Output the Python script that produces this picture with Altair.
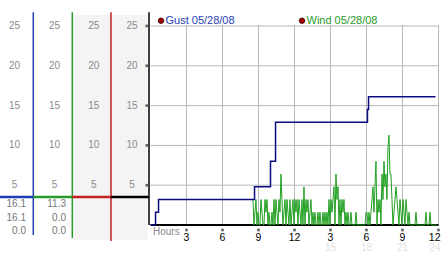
import altair as alt
import pandas as pd

# ---------------- data ----------------
gust_hours = [0.0, 0.42, 0.67, 8.67, 10.0, 10.42, 18.08, 18.17, 23.75]
gust_values = [0.0, 1.6, 3.2, 4.8, 8.0, 12.9, 14.5, 16.1, 16.1]

wind_start_hour = 8.54          # first wind sample
wind_step_hours = 5 / 60        # 5-minute samples
wind_values = [
    3.2, 0, 1.6, 3.2, 0, 1.6, 0, 0, 3.2, 1.6,
    0, 0, 3.2, 1.6, 3.2, 0, 1.6, 0, 0, 1.6,
    0, 3.2, 0, 3.2, 1.6, 0, 3.2, 1.6, 6.4, 3.2,
    0, 1.6, 3.2, 0, 3.2, 1.6, 0, 3.2, 0, 1.6,
    3.2, 0, 3.2, 1.6, 3.2, 0, 3.2, 1.6, 0, 3.2,
    0, 4.8, 0, 3.2, 1.6, 3.2, 0, 1.6, 3.2, 0,
    1.6, 0, 1.6, 0, 0, 1.6, 0, 1.6, 0, 0,
    1.6, 0, 1.6, 0, 1.6, 0, 3.2, 0, 3.2, 1.6,
    3.2, 4.8, 0, 6.4, 3.2, 4.8, 0, 3.2, 0, 3.2,
    1.6, 3.2, 0, 1.6, 0, 1.6, 0, 0, 1.6, 0,
    0, 0, 0, 1.6, 0, 0, 0, 0, 0, 0,
    0, 0, 0, 1.6, 1.6, 0, 1.6, 0, 1.6, 3.2,
    4.8, 1.6, 4.8, 8.0, 0, 3.2, 1.6, 3.2, 0, 6.4,
    3.2, 8.0, 4.8, 6.4, 3.2, 9.7, 11.3, 6.4, 6.4, 3.2,
    0, 1.6, 3.2, 4.8, 3.2, 1.6, 0, 3.2, 1.6, 0,
    3.2, 1.6, 0, 3.2, 1.6, 0, 1.6, 0, 0, 0,
    0, 0, 0, 1.6, 0, 0, 0, 0, 0, 0,
    0, 0, 0, 1.6, 0, 0, 0, 1.6, 0, 0,
    0, 0, 0, 0, 0,
]

y_ticks = [5, 10, 15, 20, 25]
x_ticks = [3, 6, 9, 12, 15, 18, 21, 24]
x_tick_labels = ["3", "6", "9", "12", "3", "6", "9", "12"]
x_ticks2 = [15, 18, 21, 24]
x_tick_labels2 = ["15", "18", "21", "24"]

gust_stats = ["16.1", "16.1", "0.0"]
wind_stats = ["11.3", "0.0", "0.0"]
legend_labels = ["Gust 05/28/08", "Wind 05/28/08"]

# ---------------- layout (in the chart's own units: hours / km/h) ----------------
PX_PER_H = 12.0
X0 = 150.5
PX_PER_V = 7.96
Y0 = 225.0
W, H = 442, 253

def hx(px):
    return (px - X0) / PX_PER_H

def vy(py):
    return (Y0 - py) / PX_PER_V

XS = alt.Scale(domain=[hx(0), hx(W)], nice=False, zero=False)
YS = alt.Scale(domain=[vy(H), vy(0)], nice=False, zero=False)

def X(f): return alt.X(f, type="quantitative", scale=XS, axis=None)
def X2(f): return alt.X2(f)
def Y(f): return alt.Y(f, type="quantitative", scale=YS, axis=None)
def Y2(f): return alt.Y2(f)

FONT = "Liberation Sans"
BLUE, GREEN, RED, BLACK = "#1f3db5", "#2a9a2a", "#c42020", "#000000"

col_edges = [hx(0), hx(33.3), hx(72.3), hx(111), hx(149)]
col_centers = [hx(14.5), hx(54.5), hx(93.8), hx(132)]
col_colors = [BLUE, GREEN, RED, BLACK]

layers = []

# shaded background of the two right columns of the side panel
shade = pd.DataFrame({"x": [hx(72.7)], "x2": [hx(147.5)], "y": [vy(15)], "y2": [vy(240)]})
layers.append(alt.Chart(shade).mark_rect(color="#f4f4f4").encode(
    x=X("x"), x2=X2("x2"), y=Y("y"), y2=Y2("y2")))

# main grid
vgrid = pd.DataFrame({"x": x_ticks, "y": [vy(25)] * len(x_ticks), "y2": [0] * len(x_ticks)})
layers.append(alt.Chart(vgrid).mark_rule(color="#b8b8b8", strokeWidth=1).encode(
    x=X("x"), y=Y("y"), y2=Y2("y2")))
hgrid = pd.DataFrame({"y": y_ticks, "x": [0] * len(y_ticks), "x2": [24] * len(y_ticks)})
layers.append(alt.Chart(hgrid).mark_rule(color="#b8b8b8", strokeWidth=1).encode(
    x=X("x"), x2=X2("x2"), y=Y("y")))

# side panel vertical separators
vsep = pd.DataFrame({
    "x": col_edges[1:],
    "y": [vy(12.3)] * 4,
    "y2": [vy(235), vy(238), vy(241), 0],
    "c": col_colors,
})
layers.append(alt.Chart(vsep).mark_rule(strokeWidth=1.5).encode(
    x=X("x"), y=Y("y"), y2=Y2("y2"),
    color=alt.Color("c:N", scale=None)))

# side panel horizontal separator
hsep = pd.DataFrame({
    "x": col_edges[:-1], "x2": col_edges[1:],
    "y": [vy(197)] * 4, "c": col_colors,
})
layers.append(alt.Chart(hsep).mark_rule(strokeWidth=2.6).encode(
    x=X("x"), x2=X2("x2"), y=Y("y"),
    color=alt.Color("c:N", scale=None)))

# side panel scale labels
lab_rows = []
for cx in col_centers:
    for t in y_ticks:
        lab_rows.append({"x": cx, "y": t, "t": str(t)})
layers.append(alt.Chart(pd.DataFrame(lab_rows)).mark_text(
    font=FONT, fontSize=10, color="#8a8a8a", align="center", baseline="middle").encode(
    x=X("x"), y=Y("y"), text="t:N"))

# tick marks at right of side panel
ytm = pd.DataFrame({"x": [hx(146.8)] * len(y_ticks), "y": y_ticks})
layers.append(alt.Chart(ytm).mark_point(
    shape="square", filled=True, size=7, color="#555", opacity=0.9).encode(
    x=X("x"), y=Y("y")))

# current / max / min values
stat_rows = []
for i, (g, w) in enumerate(zip(gust_stats, wind_stats)):
    yy = [vy(204), vy(218.3), vy(230.7)][i]
    stat_rows.append({"x": hx(26), "y": yy, "t": g})
    stat_rows.append({"x": hx(66), "y": yy, "t": w})
layers.append(alt.Chart(pd.DataFrame(stat_rows)).mark_text(
    font=FONT, fontSize=10, color="#777777", align="right", baseline="middle").encode(
    x=X("x"), y=Y("y"), text="t:N"))

# baseline of main plot
base = pd.DataFrame({"x": [0], "x2": [24], "y": [0]})
layers.append(alt.Chart(base).mark_rule(color=BLACK, strokeWidth=2).encode(
    x=X("x"), x2=X2("x2"), y=Y("y")))

# wind series
wind_df = pd.DataFrame({
    "h": [wind_start_hour + i * wind_step_hours for i in range(len(wind_values))],
    "v": wind_values,
})
layers.append(alt.Chart(wind_df).mark_line(color="#22a022", strokeWidth=1).encode(
    x=X("h"), y=Y("v")))

# gust series
gust_df = pd.DataFrame({"h": gust_hours, "v": gust_values})
layers.append(alt.Chart(gust_df).mark_line(color="#0c0c80", strokeWidth=1.5,
                                           interpolate="step-after").encode(
    x=X("h"), y=Y("v")))

# x tick marks and labels
xtm = pd.DataFrame({"x": x_ticks, "y": [vy(230)] * len(x_ticks)})
layers.append(alt.Chart(xtm).mark_point(
    shape="square", filled=True, size=7, color="#555", opacity=0.9).encode(
    x=X("x"), y=Y("y")))
xtl = pd.DataFrame({"x": x_ticks[:-1], "y": [vy(238)] * 7, "t": x_tick_labels[:-1]})
layers.append(alt.Chart(xtl).mark_text(
    font=FONT, fontSize=10.5, color="#000", align="center", baseline="middle").encode(
    x=X("x"), y=Y("y"), text="t:N"))
xtl_last = pd.DataFrame({"x": x_ticks[-1:], "y": [vy(238)], "t": x_tick_labels[-1:]})
layers.append(alt.Chart(xtl_last).mark_text(
    font=FONT, fontSize=10.5, color="#000", align="right", baseline="middle", dx=2).encode(
    x=X("x"), y=Y("y"), text="t:N"))
xtl2 = pd.DataFrame({"x": x_ticks2[:-1], "y": [vy(248)] * 3, "t": x_tick_labels2[:-1]})
layers.append(alt.Chart(xtl2).mark_text(
    font=FONT, fontSize=10, color="#e2e2e2", align="center", baseline="middle").encode(
    x=X("x"), y=Y("y"), text="t:N"))
xtl2_last = pd.DataFrame({"x": x_ticks2[-1:], "y": [vy(248)], "t": x_tick_labels2[-1:]})
layers.append(alt.Chart(xtl2_last).mark_text(
    font=FONT, fontSize=10, color="#e2e2e2", align="right", baseline="middle", dx=2).encode(
    x=X("x"), y=Y("y"), text="t:N"))

hours = pd.DataFrame({"x": [hx(153)], "y": [vy(231.5)], "t": ["Hours"]})
layers.append(alt.Chart(hours).mark_text(
    font=FONT, fontSize=10, color="#8a8a8a", align="left", baseline="middle").encode(
    x=X("x"), y=Y("y"), text="t:N"))

# legend
leg = pd.DataFrame({
    "dx": [hx(161), hx(302)], "tx": [hx(165.5), hx(306.5)],
    "y": [vy(20.7)] * 2, "t": legend_labels, "c": [BLUE, GREEN],
})
layers.append(alt.Chart(leg).mark_point(shape="circle", filled=True, size=30,
                                        color="#a80000", stroke="#2a0000",
                                        strokeWidth=0.8, opacity=1).encode(
    x=X("dx"), y=Y("y")))
layers.append(alt.Chart(leg).mark_text(
    font=FONT, fontSize=11, align="left", baseline="middle").encode(
    x=X("tx"), y=Y("y"), text="t:N", color=alt.Color("c:N", scale=None)))

chart = alt.layer(*layers).properties(
    width=W, height=H, padding=0, autosize=alt.AutoSizeParams(type="none"),
    background="white",
).configure_view(stroke=None)

chart.save("out.html", embed_options={"renderer": "svg", "actions": False})
